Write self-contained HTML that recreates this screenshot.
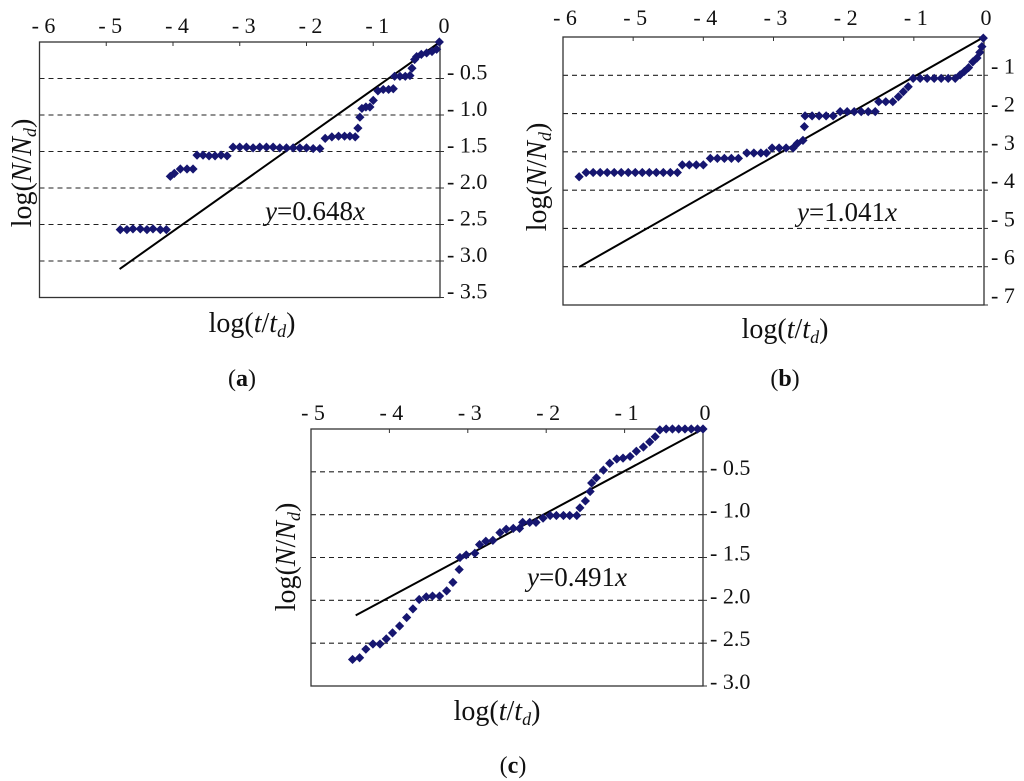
<!DOCTYPE html>
<html><head><meta charset="utf-8"><style>
html,body{margin:0;padding:0;background:#fff;}
svg{display:block;font-family:"Liberation Serif",serif;}
</style></head><body>
<svg id="fig" width="1024" height="781" viewBox="0 0 1024 781"></svg>
<script>
// ---- Panel (a) data ----
const aXTicks = ["- 6","- 5","- 4","- 3","- 2","- 1","0"];
const aYTicks = ["- 0.5","- 1.0","- 1.5","- 2.0","- 2.5","- 3.0","- 3.5"];
const aX = [-4.79,-4.69,-4.60,-4.49,-4.39,-4.30,-4.19,-4.10,-4.04,-3.98,-3.89,-3.79,-3.70,-3.64,-3.55,-3.46,-3.37,-3.28,-3.19,-3.10,-3.00,-2.90,-2.80,-2.70,-2.60,-2.50,-2.40,-2.30,-2.20,-2.10,-2.00,-1.90,-1.80,-1.72,-1.62,-1.52,-1.43,-1.35,-1.27,-1.23,-1.20,-1.17,-1.11,-1.05,-1.00,-0.93,-0.85,-0.77,-0.70,-0.68,-0.60,-0.52,-0.45,-0.42,-0.38,-0.35,-0.28,-0.20,-0.12,-0.05,-0.01];
const aY = [-2.57,-2.57,-2.56,-2.56,-2.57,-2.56,-2.57,-2.57,-1.84,-1.80,-1.74,-1.74,-1.74,-1.55,-1.55,-1.56,-1.56,-1.55,-1.56,-1.44,-1.44,-1.44,-1.45,-1.44,-1.44,-1.44,-1.45,-1.45,-1.45,-1.45,-1.45,-1.46,-1.46,-1.32,-1.30,-1.29,-1.29,-1.29,-1.30,-1.18,-1.03,-0.91,-0.89,-0.89,-0.80,-0.67,-0.65,-0.65,-0.64,-0.47,-0.47,-0.47,-0.46,-0.36,-0.24,-0.20,-0.17,-0.15,-0.13,-0.10,0.00];
const aSlope = 0.648;
const aFitStart = -4.8;

// ---- Panel (b) data ----
const bXTicks = ["- 6","- 5","- 4","- 3","- 2","- 1","0"];
const bYTicks = ["- 1","- 2","- 3","- 4","- 5","- 6","- 7"];
const bX = [-5.77,-5.67,-5.57,-5.47,-5.37,-5.27,-5.17,-5.07,-4.97,-4.87,-4.77,-4.67,-4.57,-4.47,-4.37,-4.30,-4.20,-4.10,-4.00,-3.90,-3.80,-3.70,-3.60,-3.50,-3.38,-3.28,-3.18,-3.10,-3.02,-2.92,-2.82,-2.72,-2.66,-2.58,-2.56,-2.55,-2.45,-2.35,-2.25,-2.15,-2.05,-1.95,-1.85,-1.75,-1.65,-1.55,-1.50,-1.40,-1.30,-1.22,-1.15,-1.08,-1.01,-0.91,-0.81,-0.71,-0.61,-0.51,-0.41,-0.34,-0.28,-0.22,-0.16,-0.10,-0.06,-0.03,-0.01];
const bY = [-3.65,-3.54,-3.54,-3.54,-3.54,-3.54,-3.54,-3.54,-3.54,-3.54,-3.54,-3.54,-3.54,-3.54,-3.54,-3.34,-3.34,-3.34,-3.34,-3.17,-3.17,-3.17,-3.17,-3.17,-3.03,-3.03,-3.03,-3.03,-2.90,-2.90,-2.90,-2.90,-2.78,-2.70,-2.34,-2.06,-2.06,-2.06,-2.06,-2.06,-1.95,-1.95,-1.95,-1.95,-1.95,-1.95,-1.69,-1.69,-1.69,-1.56,-1.43,-1.30,-1.08,-1.08,-1.08,-1.08,-1.08,-1.08,-1.08,-0.99,-0.90,-0.80,-0.65,-0.55,-0.40,-0.25,-0.03];
const bSlope = 1.041;
const bFitStart = -5.77;

// ---- Panel (c) data ----
const cXTicks = ["- 5","- 4","- 3","- 2","- 1","0"];
const cYTicks = ["- 0.5","- 1.0","- 1.5","- 2.0","- 2.5","- 3.0"];
const cX = [-4.47,-4.38,-4.30,-4.21,-4.12,-4.04,-3.96,-3.87,-3.78,-3.70,-3.62,-3.53,-3.45,-3.36,-3.27,-3.19,-3.11,-3.10,-3.02,-2.91,-2.85,-2.77,-2.68,-2.59,-2.51,-2.42,-2.34,-2.30,-2.21,-2.13,-2.04,-1.95,-1.87,-1.78,-1.70,-1.61,-1.57,-1.50,-1.44,-1.42,-1.36,-1.27,-1.19,-1.10,-1.02,-0.93,-0.85,-0.76,-0.68,-0.61,-0.55,-0.47,-0.39,-0.31,-0.23,-0.15,-0.07,0.00];
const cY = [-2.69,-2.67,-2.57,-2.51,-2.51,-2.45,-2.38,-2.30,-2.20,-2.10,-1.99,-1.96,-1.95,-1.95,-1.89,-1.79,-1.64,-1.50,-1.47,-1.45,-1.35,-1.31,-1.30,-1.21,-1.17,-1.16,-1.16,-1.09,-1.09,-1.09,-1.04,-1.01,-1.01,-1.01,-1.01,-1.01,-0.92,-0.84,-0.73,-0.63,-0.57,-0.48,-0.40,-0.35,-0.34,-0.32,-0.26,-0.21,-0.15,-0.09,-0.01,0.00,0.00,0.00,0.00,0.00,0.00,0.00];
const cSlope = 0.491;
const cFitStart = -4.43;

const NS = "http://www.w3.org/2000/svg";
const svg = document.getElementById('fig');
function mk(tag, attrs, parent){
  const e = document.createElementNS(NS, tag);
  for (const k in attrs) e.setAttribute(k, attrs[k]);
  (parent||svg).appendChild(e);
  return e;
}

function panel(id, cfg, xs, ys, xTicks, yTicks, slope, fitStart){
  const g = mk('g', {});
  
  
  const sx = v => cfg.x0 + (v - cfg.xmin) / (cfg.xmax - cfg.xmin) * (cfg.x1 - cfg.x0);
  const sy = v => cfg.y0 + (0 - v) / (cfg.ymax) * (cfg.y1 - cfg.y0);
  for (let i = 1; i < yTicks.length; i++) {
    const yy = sy(-i * cfg.ystep);
    const l = mk('line', {x1: cfg.x0, x2: cfg.x1, y1: yy, y2: yy, stroke: '#222', 'stroke-width': 1.1, 'stroke-dasharray': '5,4'}, g);
    
    
  }
  const r = mk('rect', {x: cfg.x0, y: cfg.y0, width: cfg.x1 - cfg.x0, height: cfg.y1 - cfg.y0, fill: 'none', stroke: '#333', 'stroke-width': 1.3}, g);
  
  
  xTicks.forEach((t, i) => {
    const v = cfg.xmin + i;
    const xx = sx(v);
    if (i > 0 && i < xTicks.length - 1) {
      const tk = mk('line', {x1: xx, x2: xx, y1: cfg.y0, y2: cfg.y0 + 4, stroke: '#333', 'stroke-width': 1}, g);
      
      
    }
    const tx = mk('text', {x: xx + cfg.xlabDx, y: cfg.xlabY, 'font-size': 22, 'text-anchor': 'middle', fill: '#111'}, g);
    tx.textContent = t;
    
    
  });
  yTicks.forEach((t, i) => {
    const yy = sy(-(i + 1) * cfg.ystep);
    const tk = mk('line', {x1: cfg.x1, x2: cfg.x1 + 4, y1: yy, y2: yy, stroke: '#333', 'stroke-width': 1}, g);
    
    
    const tx = mk('text', {x: cfg.x1 + 7, y: yy - cfg.ylabUp + 8, 'font-size': 22, fill: '#111'}, g);
    tx.textContent = t;
    
    
  });
  const fl = mk('line', {x1: sx(fitStart), y1: sy(slope * fitStart), x2: sx(0), y2: sy(0), stroke: '#000', 'stroke-width': 2}, g);
  
  
  xs.forEach((xv, i) => {
    const px = sx(xv), py = sy(ys[i]);
    const p = mk('path', {d: `M${px} ${py-4.6}L${px+4.6} ${py}L${px} ${py+4.6}L${px-4.6} ${py}Z`, fill: '#161670'}, g);
    
    
  });
  const eq = mk('text', {x: cfg.eqX, y: cfg.eqY, 'font-size': 27, fill: '#111'}, g);
  
  
  eq.innerHTML = `<tspan font-style="italic">y</tspan>=${slope.toFixed(3)}<tspan font-style="italic">x</tspan>`;
  const xt = mk('text', {x: cfg.xtX, y: cfg.xtY, 'font-size': 28, 'text-anchor': 'middle', fill: '#111'}, g);
  
  
  xt.innerHTML = `log(<tspan font-style="italic">t</tspan>/<tspan font-style="italic">t</tspan><tspan font-style="italic" font-size="18" dy="5">d</tspan><tspan dy="-5">)</tspan>`;
  const yt = mk('text', {x: 0, y: 0, 'font-size': 28, 'text-anchor': 'middle', fill: '#111', transform: `translate(${cfg.ytX},${cfg.ytY}) rotate(-90)`}, g);
  
  
  yt.innerHTML = `log(<tspan font-style="italic">N</tspan>/<tspan font-style="italic">N</tspan><tspan font-style="italic" font-size="18" dy="5">d</tspan><tspan dy="-5">)</tspan>`;
  const cap = mk('text', {x: cfg.capX, y: cfg.capY, 'font-size': 24, 'text-anchor': 'middle', fill: '#111'}, g);
  
  
  cap.innerHTML = `(<tspan font-weight="bold">${id}</tspan>)`;
}

panel('a', {x0:39.5,x1:440,y0:42,y1:297.5,xmin:-6,xmax:0,ymax:3.5,ystep:0.5,xlabDx:4,xlabY:33,ylabUp:7,
  eqX:265,eqY:220,xtX:252,xtY:332,ytX:31,ytY:173,capX:242,capY:386}, aX, aY, aXTicks, aYTicks, aSlope, aFitStart);
panel('b', {x0:563,x1:984,y0:37,y1:305,xmin:-6,xmax:0,ymax:7,ystep:1,xlabDx:2,xlabY:25,ylabUp:10,
  eqX:797,eqY:221,xtX:785,xtY:338,ytX:546,ytY:177,capX:785,capY:386}, bX, bY, bXTicks, bYTicks, bSlope, bFitStart);
panel('c', {x0:311,x1:703,y0:429,y1:686,xmin:-5,xmax:0,ymax:3,ystep:0.5,xlabDx:2,xlabY:420,ylabUp:5,
  eqX:527,eqY:586,xtX:497,xtY:720,ytX:295,ytY:557,capX:513,capY:773}, cX, cY, cXTicks, cYTicks, cSlope, cFitStart);
</script>
</body></html>
